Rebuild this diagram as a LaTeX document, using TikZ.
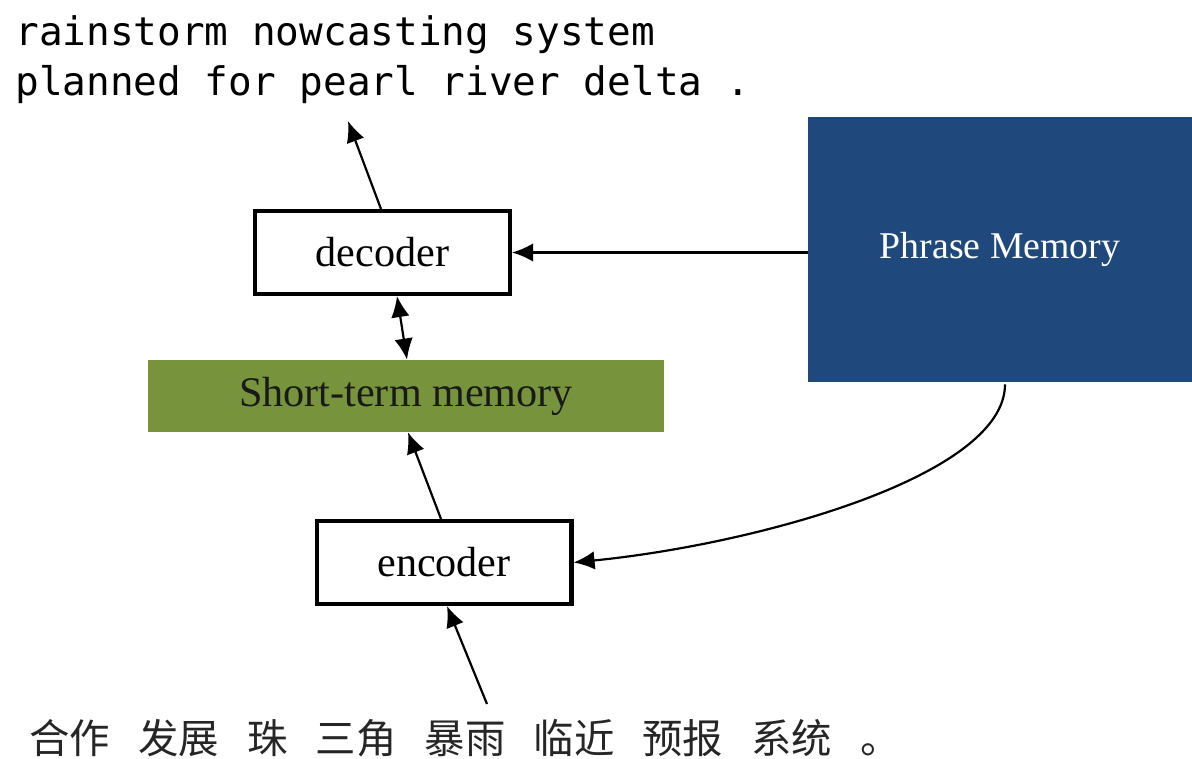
\documentclass[tikz,border=0pt]{standalone}
\usepackage{fontspec}
\setmainfont{Liberation Serif}
\setmonofont{DejaVu Sans Mono}
\newfontfamily\cjk{Noto Sans CJK SC}
\usetikzlibrary{arrows.meta,calc}

\definecolor{stmgreen}{HTML}{77933C}
\definecolor{pmblue}{HTML}{1F497D}

\tikzset{
  box/.style={draw=black, line width=2.3pt, fill=white, inner sep=0pt,
    minimum width=5.1cm, minimum height=1.66cm, font=\fontsize{24}{28}\selectfont},
  memory/.style={inner sep=0pt, font=\fontsize{24}{28}\selectfont},
  conn/.style={line width=1.25pt, -{Latex[length=12pt,width=10.5pt]}},
  biconn/.style={line width=1.25pt, {Latex[length=12pt,width=10.5pt]}-{Latex[length=12pt,width=10.5pt]}},
  monotext/.style={anchor=base west, inner sep=0pt, font=\ttfamily\fontsize{22.4}{28}\selectfont},
  cjktext/.style={anchor=base west, inner sep=0pt, font=\cjk\fontsize{23}{27}\selectfont, text=black!85}
}
\newcommand{\wsp}{\hspace{16pt}}

\begin{document}
\begin{tikzpicture}[x=0.02cm, y=-0.02cm]
  \useasboundingbox (0,0) rectangle (1192,759);

  % output sentence
  \node[monotext] (out1) at (15,46) {rainstorm nowcasting system};
  \node[monotext] (out2) at (15,96) {planned for pearl river delta .};

  % boxes
  \node[box] (dec) at (382.5,252.5) {decoder};
  \node[memory, fill=stmgreen, text=black!90, minimum width=10.32cm, minimum height=1.44cm]
    (stm) at (406,396) {Short-term memory};
  \node[box] (enc) at (444,562.5) {encoder};
  \node[memory, fill=pmblue, text=white, minimum width=7.68cm, minimum height=5.3cm,
    font=\fontsize{21.5}{26}\selectfont]
    (pm) at (1000,249.5) {Phrase Memory};

  % input sentence
  \node[cjktext] (src) at (29,753)
    {合作\wsp 发展\wsp 珠\wsp 三角\wsp 暴雨\wsp 临近\wsp 预报\wsp 系统\wsp 。};

  % connector end points
  \coordinate (outend) at (348,121);
  \coordinate (srcstart) at (487,704);

  % connectors
  \draw[conn] ($(dec.north)+(-1.5,0)$) -- (outend);
  \draw[conn] (pm.west |- dec.east) -- (dec.east);
  \draw[biconn] ($(dec.south)+(14.5,0)$) -- ($(stm.north)+(1,0)$);
  \draw[conn] ($(enc.north)+(-3,0)$) -- ($(stm.south)+(2,0)$);
  \draw[conn] (srcstart) -- ($(enc.south)+(3,0)$);
  \draw[conn] ($(pm.south)+(5,2)$) .. controls +(0,92) and +(182,-18) .. (enc.east);
\end{tikzpicture}
\end{document}
